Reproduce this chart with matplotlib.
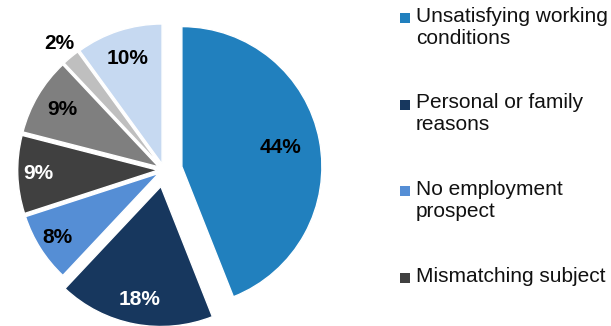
import matplotlib
matplotlib.use("Agg")
import matplotlib.pyplot as plt
import numpy as np
from matplotlib.patches import Rectangle

# Data
categories = ["Unsatisfying working\nconditions", "Personal or family\nreasons",
              "No employment\nprospect", "Mismatching subject",
              "Other (1)", "Other (2)", "Other (3)"]
values = [44, 18, 8, 9, 9, 2, 10]
pct_labels = ["44%", "18%", "8%", "9%", "9%", "2%", "10%"]
legend_count = 4

# Styles
colors = ["#2180BE", "#17375E", "#558ED5", "#404040", "#7F7F7F", "#BFBFBF", "#C6D9F1"]
label_colors = ["black", "white", "black", "white", "black", "black", "black"]
explode_frac = [0.13, 0.12, 0.045, 0.045, 0.045, 0.045, 0.045]
label_dist = [0.72, 0.82, 0.86, 0.85, 0.80, 1.13, 0.79]

plt.rcParams['font.family'] = ['Liberation Sans', 'DejaVu Sans']

W, H = 611, 326
fig = plt.figure(figsize=(W / 100, H / 100), dpi=100)
ax = fig.add_axes([0, 0, 1, 1])

cx, cy, R = 164, H - 170, 140
explode = [e * R for e in explode_frac]
wedges, _ = ax.pie(values, colors=colors, explode=explode, startangle=90,
                   counterclock=False, center=(cx, cy), radius=R,
                   wedgeprops=dict(edgecolor='white', linewidth=1.0),
                   frame=True)
ax.set_xlim(0, W)
ax.set_ylim(0, H)
ax.set_aspect('equal')
ax.axis('off')

for w, lab, col, d in zip(wedges, pct_labels, label_colors, label_dist):
    mid = np.deg2rad((w.theta1 + w.theta2) / 2)
    x = w.center[0] + d * w.r * np.cos(mid)
    y = w.center[1] + d * w.r * np.sin(mid)
    ax.text(x, y, lab, ha='center', va='center', fontsize=15,
            fontweight='bold', color=col)

# Legend (manual, first entries only as visible)
top = H - 18
spacing = 86.5
for i in range(legend_count):
    yc = top - i * spacing
    ax.add_patch(Rectangle((400, yc - 5), 10, 10, facecolor=colors[i],
                           edgecolor='none'))
    ax.text(416, yc + 11, categories[i], ha='left', va='top', fontsize=15,
            color='#111111', linespacing=1.2)

fig.savefig("out.png", dpi=100)
